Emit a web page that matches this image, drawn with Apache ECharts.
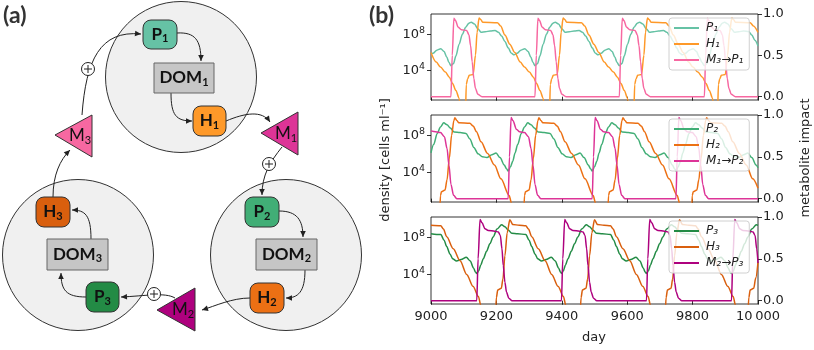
<!DOCTYPE html>
<html>
<head>
<meta charset="utf-8">
<script src="https://cdn.jsdelivr.net/npm/echarts@6/dist/echarts.min.js"></script>
<style>
  html, body { margin: 0; padding: 0; background: #fff; }
  #chart { width: 814px; height: 350px; }
</style>
</head>
<body>
<div id="chart"></div>
<script>
// x ticks (days)
var dayTicks = [9000, 9200, 9400, 9600, 9800, 10000];
// left axis: log10(density) tick positions, right axis: impact ticks
var densityTicks = [4, 8];
var impactTicks = [0, 0.5, 1];

// legend names
var names1 = ['P\u2081', 'H\u2081', 'M\u2083\u2192P\u2081'];
var names2 = ['P\u2082', 'H\u2082', 'M\u2081\u2192P\u2082'];
var names3 = ['P\u2083', 'H\u2083', 'M\u2082\u2192P\u2083'];

// panel 1 : [day, log10 density] and [day, impact]
var p1 = [[9000,5.85],[9006,5.9],[9018,6.25],[9030,6.4],[9040,6.1],[9048,5.5],[9055,4.9],
  [9061,4.55],[9069,4.8],[9076,5.6],[9086,6.9],[9096,8.0],[9106,8.75],[9116,9.2],[9123,9.3],[9133,9.1],[9143,8.6],[9153,8.2],[9166,8.25],[9181,8.35],[9196,8.4],[9206,8.2],[9216,7.8],[9226,7.2],[9236,6.5],[9246,5.9],[9254,5.75],[9263,5.9],[9275,6.25],[9287,6.4],[9297,6.1],[9305,5.5],[9312,4.9],
  [9318,4.55],[9326,4.8],[9333,5.6],[9343,6.9],[9353,8.0],[9363,8.75],[9373,9.2],[9380,9.3],[9390,9.1],[9400,8.6],[9410,8.2],[9423,8.25],[9438,8.35],[9453,8.4],[9463,8.2],[9473,7.8],[9483,7.2],[9493,6.5],[9503,5.9],[9511,5.75],[9520,5.9],[9532,6.25],[9544,6.4],[9554,6.1],[9562,5.5],[9569,4.9],
  [9576,4.55],[9584,4.8],[9591,5.6],[9601,6.9],[9611,8.0],[9621,8.75],[9631,9.2],[9638,9.3],[9648,9.1],[9658,8.6],[9668,8.2],[9681,8.25],[9696,8.35],[9711,8.4],[9721,8.2],[9731,7.8],[9741,7.2],[9751,6.5],[9761,5.9],[9769,5.75],[9778,5.9],[9790,6.25],[9802,6.4],[9812,6.1],[9820,5.5],[9829,4.9],
  [9836,4.55],[9844,4.8],[9851,5.6],[9861,6.9],[9871,8.0],[9881,8.75],[9891,9.2],[9898,9.3],[9908,9.1],[9918,8.6],[9928,8.2],[9941,8.25],[9956,8.35],[9971,8.3],[9981,7.9],[9991,7.3],[10000,6.7]];
var h1 = [[9000,6.0],[9016,4.95],[9029,4.4],[9044,3.85],[9056,3.3],[9066,2.6],[9076,1.85],[9086,1.0],[9092,-1],[9105,-1],[9108,2.5],[9112,3.1],[9117,3.5],[9129,3.6],[9136,5.7],[9141,8.2],[9147,9.75],[9152,9.6],[9158,9.3],[9203,9.25],[9213,8.9],[9226,7.9],[9241,6.9],[9256,6.0],[9273,4.95],[9286,4.4],[9301,3.85],[9313,3.3],
  [9323,2.6],[9333,1.85],[9343,1.0],[9349,-1],[9362,-1],[9365,2.5],[9369,3.1],[9374,3.5],[9386,3.6],[9393,5.7],[9398,8.2],[9404,9.75],[9409,9.6],[9415,9.3],[9460,9.25],[9470,8.9],[9483,7.9],[9498,6.9],[9513,6.0],[9530,4.95],[9543,4.4],[9558,3.85],[9570,3.3],
  [9581,2.6],[9591,1.85],[9601,1.0],[9607,-1],[9620,-1],[9623,2.5],[9627,3.1],[9632,3.5],[9644,3.6],[9651,5.7],[9656,8.2],[9662,9.75],[9667,9.6],[9673,9.3],[9718,9.25],[9728,8.9],[9741,7.9],[9756,6.9],[9771,6.0],[9788,4.95],[9801,4.4],[9816,3.85],[9830,3.3],
  [9841,2.6],[9851,1.85],[9861,1.0],[9867,-1],[9876,-1],[9879,2.5],[9883,3.1],[9888,3.5],[9900,3.6],[9907,5.7],[9913,8.2],[9920,9.75],[9925,9.6],[9931,9.3],[9976,9.25],[9986,8.9],[10000,8.2]];
var m31 = [[9000,0],[9061,0],[9065,0.5],[9070,0.95],[9075,0.92],[9083,0.84],[9093,0.81],[9109,0.8],[9116,0.75],[9121,0.62],[9126,0.42],[9131,0.22],[9136,0.1],[9143,0.03],[9156,0],
  [9318,0],[9322,0.5],[9327,0.95],[9332,0.92],[9340,0.84],[9350,0.81],[9366,0.8],[9373,0.75],[9378,0.62],[9383,0.42],[9388,0.22],[9393,0.1],[9400,0.03],[9413,0],
  [9576,0],[9580,0.5],[9585,0.95],[9590,0.92],[9598,0.84],[9608,0.81],[9624,0.8],[9631,0.75],[9636,0.62],[9641,0.42],[9646,0.22],[9651,0.1],[9658,0.03],[9671,0],
  [9836,0],[9840,0.5],[9845,0.95],[9850,0.92],[9858,0.84],[9868,0.81],[9884,0.8],[9891,0.75],[9896,0.62],[9901,0.42],[9906,0.22],[9911,0.1],[9918,0.03],[9931,0],[10000,0]];

// panel 2
var p2 = [[9000,6.1],[9008,7.0],[9019,8.2],[9029,8.9],[9039,9.35],[9049,9.15],[9059,8.8],[9071,8.35],[9089,8.3],[9107,8.2],[9119,7.6],[9131,6.7],[9144,6.0],[9157,5.7],[9171,5.6],[9186,5.9],[9199,6.1],[9211,5.6],[9224,4.8],[9231,4.4],
  [9236,4.15],[9243,4.6],[9250,5.2],[9257,6.1],[9265,7.0],[9276,8.2],[9286,8.9],[9296,9.35],[9306,9.15],[9316,8.8],[9328,8.35],[9346,8.3],[9364,8.2],[9376,7.6],[9388,6.7],[9401,6.0],[9414,5.7],[9428,5.6],[9443,5.9],[9456,6.1],[9468,5.6],[9481,4.8],[9488,4.4],
  [9493,4.15],[9500,4.6],[9507,5.2],[9514,6.1],[9522,7.0],[9533,8.2],[9543,8.9],[9553,9.35],[9563,9.15],[9573,8.8],[9585,8.35],[9603,8.3],[9621,8.2],[9633,7.6],[9645,6.7],[9658,6.0],[9671,5.7],[9685,5.6],[9700,5.9],[9713,6.1],[9725,5.6],[9738,4.8],[9745,4.4],
  [9749,4.15],[9756,4.6],[9763,5.2],[9770,6.1],[9778,7.0],[9789,8.2],[9799,8.9],[9809,9.35],[9819,9.15],[9829,8.8],[9841,8.35],[9859,8.3],[9877,8.2],[9889,7.6],[9901,6.7],[9914,6.0],[9927,5.7],[9941,5.6],[9956,5.9],[9969,6.1],[9981,5.6],[9994,4.8],[10000,4.5]];
var h2 = [[9000,-1],[9026,-1],[9029,1.5],[9032,1.9],[9043,2.1],[9049,3.2],[9056,5.5],[9063,8.0],[9070,9.6],[9073,9.9],[9079,9.6],[9085,9.35],[9119,9.3],[9129,9.0],[9139,8.4],[9153,7.3],[9173,6.05],[9194,4.8],[9214,3.3],[9239,1.5],[9246,0.7],[9251,-1],
  [9283,-1],[9286,1.5],[9289,1.9],[9300,2.1],[9306,3.2],[9313,5.5],[9320,8.0],[9327,9.6],[9330,9.9],[9336,9.6],[9342,9.35],[9376,9.3],[9386,9.0],[9396,8.4],[9410,7.3],[9430,6.05],[9451,4.8],[9471,3.3],[9496,1.5],[9503,0.7],[9508,-1],
  [9540,-1],[9543,1.5],[9546,1.9],[9557,2.1],[9563,3.2],[9570,5.5],[9577,8.0],[9584,9.6],[9587,9.9],[9593,9.6],[9599,9.35],[9633,9.3],[9643,9.0],[9653,8.4],[9667,7.3],[9687,6.05],[9708,4.8],[9728,3.3],[9753,1.5],[9760,0.7],[9765,-1],
  [9796,-1],[9799,1.5],[9802,1.9],[9813,2.1],[9819,3.2],[9826,5.5],[9833,8.0],[9840,9.6],[9843,9.9],[9849,9.6],[9855,9.35],[9889,9.3],[9899,9.0],[9909,8.4],[9923,7.3],[9943,6.05],[9964,4.8],[9984,3.3],[10000,2.3]];
var m12 = [[9000,0.81],[9014,0.8],[9029,0.79],[9041,0.74],[9049,0.6],[9055,0.4],[9061,0.17],[9069,0.04],[9079,0],
  [9236,0],[9240,0.5],[9245,0.97],[9251,0.93],[9261,0.83],[9271,0.8],[9286,0.79],[9298,0.74],[9306,0.6],[9312,0.4],[9318,0.17],[9326,0.04],[9336,0],
  [9493,0],[9497,0.5],[9502,0.97],[9508,0.93],[9518,0.83],[9528,0.8],[9543,0.79],[9555,0.74],[9563,0.6],[9569,0.4],[9575,0.17],[9583,0.04],[9593,0],
  [9749,0],[9753,0.5],[9758,0.97],[9764,0.93],[9774,0.83],[9784,0.8],[9799,0.79],[9811,0.74],[9819,0.6],[9825,0.4],[9831,0.17],[9839,0.04],[9849,0],[10000,0]];

// panel 3
var p3 = [[9000,8.4],[9030,8.3],[9040,7.7],[9048,7.0],[9058,6.2],[9066,5.7],[9078,5.45],[9092,5.6],[9108,5.85],[9120,5.45],[9130,4.7],[9136,4.25],
  [9140,4.1],[9146,4.4],[9152,5.0],[9160,5.7],[9170,6.5],[9180,7.3],[9190,8.05],[9202,8.9],[9216,9.37],[9226,9.15],[9236,8.8],[9247,8.44],[9265,8.4],[9290,8.3],[9300,7.7],[9308,7.0],[9318,6.2],[9326,5.7],[9338,5.45],[9352,5.6],[9368,5.85],[9380,5.45],[9390,4.7],[9396,4.25],
  [9399,4.1],[9405,4.4],[9411,5.0],[9419,5.7],[9429,6.5],[9439,7.3],[9449,8.05],[9461,8.9],[9475,9.37],[9485,9.15],[9495,8.8],[9506,8.44],[9524,8.4],[9549,8.3],[9559,7.7],[9567,7.0],[9577,6.2],[9585,5.7],[9597,5.45],[9611,5.6],[9627,5.85],[9639,5.45],[9649,4.7],[9655,4.25],
  [9659,4.1],[9665,4.4],[9671,5.0],[9679,5.7],[9689,6.5],[9699,7.3],[9709,8.05],[9721,8.9],[9735,9.37],[9745,9.15],[9755,8.8],[9766,8.44],[9784,8.4],[9809,8.3],[9819,7.7],[9827,7.0],[9837,6.2],[9845,5.7],[9857,5.45],[9871,5.6],[9887,5.85],[9899,5.45],[9909,4.7],[9915,4.25],
  [9919,4.1],[9925,4.4],[9931,5.0],[9939,5.7],[9949,6.5],[9959,7.3],[9969,8.05],[9981,8.9],[9995,9.37],[10000,9.3]];
var h3 = [[9000,9.3],[9030,9.25],[9038,8.9],[9048,8.07],[9068,6.78],[9089,5.48],[9109,4.0],[9129,2.7],[9145,1.6],[9152,0.7],[9157,-1],
  [9196,-1],[9200,1.5],[9204,2.3],[9215,2.5],[9220,3.5],[9226,6.0],[9233,8.5],[9241,9.9],[9250,9.4],[9270,9.3],[9290,9.25],[9298,8.9],[9308,8.07],[9328,6.78],[9349,5.48],[9369,4.0],[9389,2.7],[9405,1.6],[9412,0.7],[9417,-1],
  [9455,-1],[9459,1.5],[9463,2.3],[9474,2.5],[9479,3.5],[9485,6.0],[9492,8.5],[9500,9.9],[9509,9.4],[9529,9.3],[9549,9.25],[9557,8.9],[9567,8.07],[9587,6.78],[9608,5.48],[9628,4.0],[9648,2.7],[9664,1.6],[9671,0.7],[9676,-1],
  [9715,-1],[9719,1.5],[9723,2.3],[9734,2.5],[9739,3.5],[9745,6.0],[9752,8.5],[9760,9.9],[9769,9.4],[9789,9.3],[9809,9.25],[9817,8.9],[9827,8.07],[9847,6.78],[9868,5.48],[9888,4.0],[9908,2.7],[9924,1.6],[9931,0.7],[9936,-1],
  [9968,-1],[9972,1.5],[9976,2.3],[9987,2.5],[9993,3.6],[10000,5.3]];
var m23 = [[9000,0],[9140,0],[9144,0.5],[9150,0.97],[9156,0.93],[9165,0.86],[9175,0.84],[9195,0.83],[9206,0.82],[9212,0.78],[9217,0.62],[9221,0.42],[9226,0.22],[9231,0.1],[9238,0.03],[9248,0],
  [9399,0],[9403,0.5],[9409,0.97],[9415,0.93],[9424,0.86],[9434,0.84],[9454,0.83],[9465,0.82],[9471,0.78],[9476,0.62],[9480,0.42],[9485,0.22],[9490,0.1],[9497,0.03],[9507,0],
  [9659,0],[9663,0.5],[9669,0.97],[9675,0.93],[9684,0.86],[9694,0.84],[9714,0.83],[9725,0.82],[9731,0.78],[9736,0.62],[9740,0.42],[9745,0.22],[9750,0.1],[9757,0.03],[9767,0],
  [9919,0],[9923,0.5],[9929,0.97],[9935,0.93],[9944,0.86],[9954,0.84],[9974,0.83],[9985,0.82],[9991,0.78],[9996,0.62],[10000,0.45]];

//颜色
var colP = ['#66c2a5', '#41ae76', '#238b45'];
var colH = ['#fe9929', '#ec7014', '#d95f0e'];
var colM = ['#f768a1', '#dd3497', '#ae017e'];

var chart = echarts.init(document.getElementById('chart'), null, {renderer: 'canvas'});

var font = 'DejaVu Sans';
var ink = '#222';
var gridTops = [14, 115, 217];
var gridH = [86, 87, 87];

var grids = [], xAxes = [], yAxes = [], legends = [];
var panels = [
    {names: names1, data: [p1, h1, m31]},
    {names: names2, data: [p2, h2, m12]},
    {names: names3, data: [p3, h3, m23]}
];

for (var i = 0; i < 3; i++) {
    grids.push({
        left: 431, top: gridTops[i], width: 327, height: gridH[i],
        show: true, borderColor: '#000', borderWidth: 0.8, backgroundColor: 'transparent'
    });
    xAxes.push({
        type: 'value', gridIndex: i, min: dayTicks[0], max: dayTicks[dayTicks.length - 1], interval: 200,
        axisLine: {show: false},
        axisTick: {show: true, length: 4, lineStyle: {color: '#000', width: 0.8}},
        splitLine: {show: false},
        axisLabel: {
            show: i === 2, fontFamily: font, fontSize: 13, color: ink, margin: 6,
            formatter: function (v) { return v === 10000 ? '10\u2009000' : String(v); }
        }
    });
    yAxes.push({
        type: 'value', gridIndex: i, position: 'left', min: 0.8, max: 10.2,
        axisLine: {show: false},
        splitLine: {show: false},
        axisTick: {show: true, length: 4, customValues: densityTicks, lineStyle: {color: '#000', width: 0.8}},
        axisLabel: {
            customValues: densityTicks, margin: 6,
            formatter: function (v) { return '{b|10}{s|' + v + '}'; },
            rich: {
                b: {fontFamily: font, fontSize: 13, color: ink},
                s: {fontFamily: font, fontSize: 9.5, color: ink, padding: [0, 0, 8, 0]}
            }
        }
    });
    yAxes.push({
        type: 'value', gridIndex: i, position: 'right', min: -0.04, max: 1.0,
        axisLine: {show: false},
        splitLine: {show: false},
        axisTick: {show: true, length: 4, customValues: impactTicks, lineStyle: {color: '#000', width: 0.8}},
        axisLabel: {
            customValues: impactTicks, fontFamily: font, fontSize: 13, color: ink, margin: 5,
            formatter: function (v) { return v.toFixed(1); }
        }
    });
    legends.push({
        data: panels[i].names, orient: 'vertical', left: 669, top: gridTops[i] + 4,
        padding: [4, 6, 4, 5], itemGap: 4, itemWidth: 25, itemHeight: 2, icon: 'rect',
        backgroundColor: 'rgba(255,255,255,0.8)', borderColor: '#d0d0d0', borderWidth: 1, borderRadius: 3,
        selectedMode: false,
        textStyle: {fontFamily: font, fontSize: 12, fontStyle: 'italic', color: ink, padding: [0, 0, 0, 2]}
    });
}

var series = [];
panels.forEach(function (pan, i) {
    var cols = [colP[i], colH[i], colM[i]];
    pan.data.forEach(function (d, k) {
        series.push({
            name: pan.names[k], type: 'line', data: d,
            xAxisIndex: i, yAxisIndex: i * 2 + (k === 2 ? 1 : 0),
            showSymbol: false, smooth: 0.3, smoothMonotone: 'x', clip: true,
            color: cols[k],
            lineStyle: {width: 1.5, color: cols[k]},
            animation: false
        });
    });
});

// ---------- panel (a) diagram ----------
var g = [];
var lineCol = '#222';

function arrowHead(x0, y0, x1, y1) {
    var a = Math.atan2(y1 - y0, x1 - x0);
    var L = 6, W = 2.8;
    var bx = x1 - L * Math.cos(a), by = y1 - L * Math.sin(a);
    var nx = -Math.sin(a) * W, ny = Math.cos(a) * W;
    return {type: 'polygon', shape: {points: [[x1, y1], [bx + nx, by + ny], [bx - nx, by - ny]]},
        style: {fill: lineCol}, z: 5};
}
function arrow(x1, y1, c1x, c1y, c2x, c2y, x2, y2) {
    g.push({type: 'bezierCurve', shape: {x1: x1, y1: y1, cpx1: c1x, cpy1: c1y, cpx2: c2x, cpy2: c2y, x2: x2, y2: y2},
        style: {stroke: lineCol, lineWidth: 1, fill: null}, z: 4});
    g.push(arrowHead(c2x, c2y, x2, y2));
}
function boxText(x, y, base, sub, size, weight) {
    return {type: 'text', x: x, y: y, z: 8,
        style: {text: '{b|' + base + '}{s|' + sub + '}', align: 'center', verticalAlign: 'middle',
            rich: {
                b: {fontFamily: 'Lato', fontSize: size, fontWeight: weight, fill: '#111'},
                s: {fontFamily: 'Lato', fontSize: Math.round(size * 0.65), fontWeight: weight, fill: '#111', padding: [8, 0, 0, 0]}
            }}};
}
function rbox(x, y, w, h, fill, label, sub) {
    g.push({type: 'rect', shape: {x: x, y: y, width: w, height: h, r: 8},
        style: {fill: fill, stroke: '#333', lineWidth: 1}, z: 6});
    g.push(boxText(x + w / 2, y + h / 2, label, sub, 17, 'bold'));
}
function dom(x, y, w, h, sub) {
    g.push({type: 'rect', shape: {x: x, y: y, width: w, height: h},
        style: {fill: '#c6c6c6', stroke: '#666', lineWidth: 1}, z: 6});
    g.push(boxText(x + w / 2, y + h / 2, 'DOM', sub, 17, 'bold'));
}
function tri(pts, fill, tx, ty, sub) {
    g.push({type: 'polygon', shape: {points: pts}, style: {fill: fill, stroke: '#333', lineWidth: 1}, z: 6});
    g.push(boxText(tx, ty, 'M', sub, 17, 'normal'));
}
function plus(x, y) {
    g.push({type: 'circle', shape: {cx: x, cy: y, r: 6.5}, style: {fill: '#fff', stroke: lineCol, lineWidth: 1}, z: 7});
    g.push({type: 'line', shape: {x1: x - 4, y1: y, x2: x + 4, y2: y}, style: {stroke: lineCol, lineWidth: 1}, z: 7});
    g.push({type: 'line', shape: {x1: x, y1: y - 4, x2: x, y2: y + 4}, style: {stroke: lineCol, lineWidth: 1}, z: 7});
}

// circles
[[181, 77], [286, 255], [78, 255]].forEach(function (c) {
    g.push({type: 'circle', shape: {cx: c[0], cy: c[1], r: 75.5}, style: {fill: '#f0f0f0', stroke: '#333', lineWidth: 1}, z: 1});
});

// arrows
arrow(82, 115, 86, 60, 100, 30, 141, 34);      // M3 -> P1
arrow(177, 33, 195, 32, 201, 40, 201, 61);     // P1 -> DOM1
arrow(171, 93, 171, 115, 176, 121, 192, 121);  // DOM1 -> H1
arrow(226, 121, 245, 113, 262, 110, 270, 122); // H1 -> M1
arrow(282, 147, 270, 162, 262, 175, 262, 195); // M1 -> P2
arrow(279, 211, 297, 211, 303, 220, 303, 237); // P2 -> DOM2
arrow(305, 270, 305, 292, 298, 298, 286, 298); // DOM2 -> H2
arrow(250, 298, 232, 298, 215, 306, 202, 310); // H2 -> M2
arrow(175, 298, 165, 292, 145, 296, 121, 297); // M2 -> P3
arrow(86, 297, 66, 297, 61, 290, 61, 273);     // P3 -> DOM3
arrow(91, 239, 91, 215, 85, 210, 72, 210);     // DOM3 -> H3
arrow(53, 197, 53, 175, 60, 160, 70, 150);     // H3 -> M3

// boxes
rbox(143, 20, 34, 29, colP[0], 'P', '1');
dom(154, 63, 60, 30, '1');
rbox(193, 106, 33, 30, colH[0], 'H', '1');
rbox(245, 197, 34, 30, colP[1], 'P', '2');
dom(256, 239, 61, 31, '2');
rbox(250, 283, 34, 30, colH[1], 'H', '2');
rbox(36, 197, 34, 30, colH[2], 'H', '3');
dom(47, 239, 61, 31, '3');
rbox(86, 282, 33, 30, colP[2], 'P', '3');

// metabolite triangles
tri([[55, 135], [92, 115], [92, 157]], colM[0], 80, 136, '3');
tri([[261, 133], [298, 112], [298, 155]], colM[1], 286, 134, '1');
tri([[157, 310], [195, 288], [195, 331]], colM[2], 183, 310, '2');

plus(88, 69);
plus(269, 164);
plus(154, 294);

// labels
g.push({type: 'text', x: 3, y: 4, style: {text: '(a)', fontFamily: 'Lato', fontWeight: 'bold', fontSize: 23, fill: '#333'}});
g.push({type: 'text', x: 369, y: 4, style: {text: '(b)', fontFamily: 'Lato', fontWeight: 'bold', fontSize: 23, fill: '#333'}});
g.push({type: 'text', x: 386, y: 160, rotation: Math.PI / 2,
    style: {text: 'density [cells ml\u207B\u00B9]', fontFamily: font, fontSize: 13, fill: ink, align: 'center', verticalAlign: 'middle'}});
g.push({type: 'text', x: 806, y: 158, rotation: Math.PI / 2,
    style: {text: 'metabolite impact', fontFamily: font, fontSize: 13, fill: ink, align: 'center', verticalAlign: 'middle'}});
g.push({type: 'text', x: 594, y: 338,
    style: {text: 'day', fontFamily: font, fontSize: 13, fill: ink, align: 'center', verticalAlign: 'middle'}});

chart.setOption({
    animation: false,
    backgroundColor: '#fff',
    grid: grids,
    xAxis: xAxes,
    yAxis: yAxes,
    legend: legends,
    series: series,
    graphic: g
});
</script>
</body>
</html>
